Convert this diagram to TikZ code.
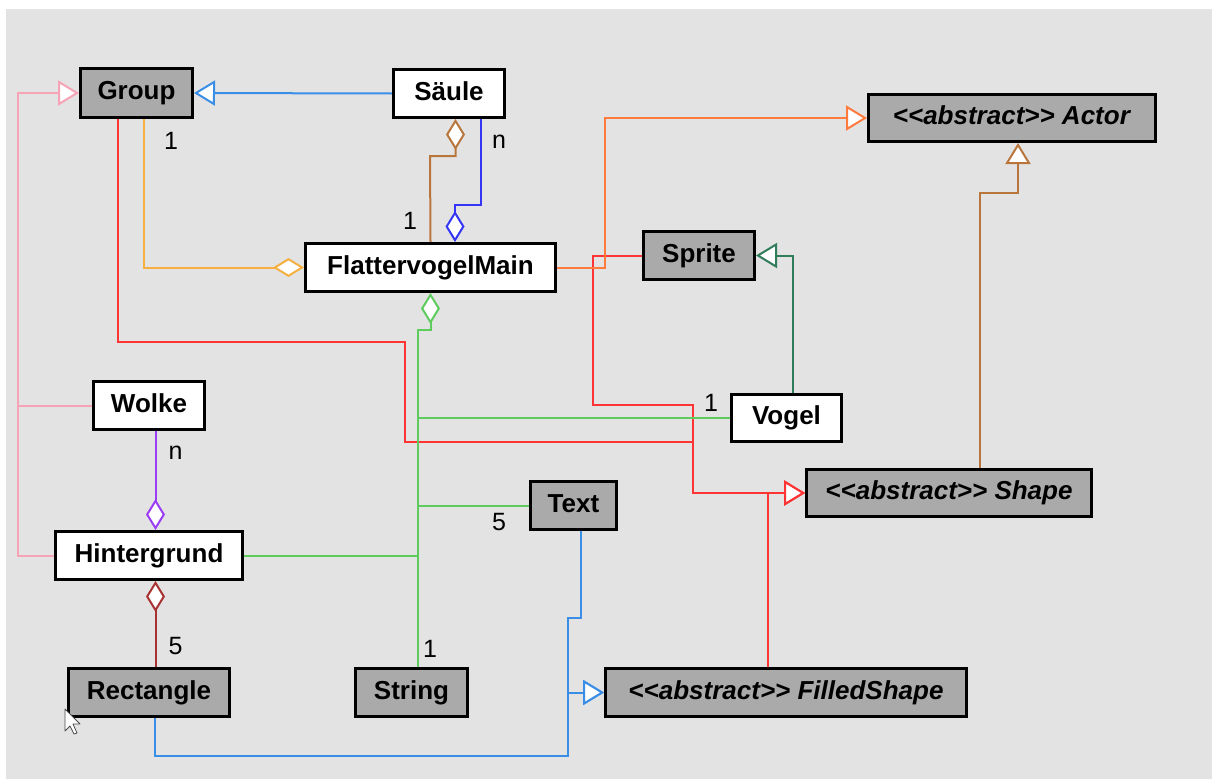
\documentclass[tikz,border=0pt]{standalone}
\usepackage{fontspec}
\setmainfont{Liberation Sans}
\usetikzlibrary{arrows.meta,backgrounds}
\definecolor{bgc}{HTML}{E3E3E3}
\definecolor{boxgray}{HTML}{AAAAAA}
\definecolor{cpink}{HTML}{F5A3B5}
\definecolor{cblue}{HTML}{3A8EE6}
\definecolor{cred}{HTML}{FF3535}
\definecolor{corange}{HTML}{FF7A3D}
\definecolor{cdgreen}{HTML}{2F7D5A}
\definecolor{cbrown}{HTML}{B8763C}
\definecolor{cpure}{HTML}{3535F5}
\definecolor{cyellow}{HTML}{F5B041}
\definecolor{cgreen}{HTML}{5DCC5D}
\definecolor{cpurple}{HTML}{9B3DF5}
\definecolor{cdred}{HTML}{A83232}
\pgfdeclarelayer{bgl}
\pgfdeclarelayer{edges}
\pgfsetlayers{bgl,edges,main}
\tikzset{
  cls/.style={draw=black, line width=3pt, fill=white, inner sep=0pt,
    font=\fontsize{26}{30}\selectfont\bfseries, text height=18.7pt, text depth=5.5pt},
  grayclass/.style={cls, fill=boxgray},
  conn/.style={line width=2pt},
  inh/.style={conn, -{Triangle[fill=white, length=21pt, width=25pt]}},
  agg/.style={conn, {Diamond[fill=white, length=31pt, width=19pt]}-},
  aggend/.style={conn, -{Diamond[fill=white, length=31pt, width=19pt]}},
  mult/.style={font=\fontsize{25}{30}\selectfont, inner sep=0pt},
}
\newcommand{\abst}[1]{\textit{<\kern0pt<abstract>\kern0pt> #1}}
\begin{document}
\begin{tikzpicture}[x=1pt,y=-1pt]
\useasboundingbox (0,0) rectangle (1212,779);
\begin{pgfonlayer}{bgl}
  \fill[white] (0,0) rectangle (1212,779);
  \fill[bgc] (6,9) rectangle (1212,779);
\end{pgfonlayer}

% classes
\node[grayclass, minimum width=112pt, minimum height=49pt] (group) at (136.5,93) {Group};
\node[cls, minimum width=111pt, minimum height=48pt] (saeule) at (449,93.5) {Säule};
\node[cls, minimum width=250pt, minimum height=48pt] (main) at (430.5,267.5) {FlattervogelMain};
\node[grayclass, minimum width=287pt, minimum height=47pt] (actor) at (1012,118) {\abst{Actor}};
\node[grayclass, minimum width=111pt, minimum height=48pt] (sprite) at (699,255.5) {Sprite};
\node[cls, minimum width=110pt, minimum height=47pt] (vogel) at (786.5,418) {Vogel};
\node[grayclass, minimum width=285pt, minimum height=47pt] (shp) at (949,493) {\abst{Shape}};
\node[grayclass, minimum width=361pt, minimum height=48pt] (filled) at (786,692.5) {\abst{FilledShape}};
\node[grayclass, minimum width=86pt, minimum height=48pt] (txt) at (573.5,505.5) {Text};
\node[grayclass, minimum width=112pt, minimum height=48pt] (strn) at (411.5,692.5) {String};
\node[cls, minimum width=111pt, minimum height=48pt] (wolke) at (149,405.5) {Wolke};
\node[cls, minimum width=187pt, minimum height=48pt] (hinter) at (149,555.5) {Hintergrund};
\node[grayclass, minimum width=161pt, minimum height=48pt] (rectn) at (149,692.5) {Rectangle};

\coordinate (pinkbus) at (18,300);
\coordinate (gbus) at (418,330);

\begin{pgfonlayer}{edges}
  % pink: Wolke, Hintergrund -> Group
  \draw[inh, cpink] (hinter.west) -| (pinkbus) |- (group.west);
  \draw[conn, cpink] (wolke.west) -- (wolke.west -| pinkbus);
  % blue: Saeule -> Group
  \draw[inh, cblue] (saeule.west) -- (group.east);
  % red: -> Shape
  \draw[inh, cred] ([xshift=-18.5pt]group.south) |- (405,342) |- (693,442) |- (shp.west);
  \draw[inh, cred] (sprite.west) -| (593,405) -| (693,493) -- (shp.west);
  \draw[inh, cred] ([xshift=-18pt]filled.north) |- (shp.west);
  % orange: Main -> Actor
  \draw[inh, corange] (main.east) -| (605,118) -- (actor.west);
  % dark green: Vogel -> Sprite
  \draw[inh, cdgreen] ([xshift=6.5pt]vogel.north) |- (sprite.east);
  % brown: Shape -> Actor
  \draw[inh, cbrown] ([xshift=31pt]shp.north) |- (1018,193) -- ([xshift=6pt]actor.south);
  % brown aggregation Saeule - Main
  \draw[agg, cbrown] ([xshift=6.5pt]saeule.south) |- (430,156) -- (main.north);
  % blue aggregation Main - Saeule
  \draw[agg, cpure] ([xshift=24.5pt]main.north) |- (481,205) -- ([xshift=32pt]saeule.south);
  % yellow: Group - Main
  \draw[aggend, cyellow] ([xshift=7pt]group.south) |- (main.west);
  % green: Main aggregation
  \draw[agg, cgreen] (main.south) |- (gbus) -- (gbus |- strn.north);
  \draw[conn, cgreen] (vogel.west) -- (vogel.west -| gbus);
  \draw[conn, cgreen] (txt.west) -- (txt.west -| gbus);
  \draw[conn, cgreen] (hinter.east) -- (hinter.east -| gbus);
  % purple: Hintergrund - Wolke
  \draw[agg, cpurple] ([xshift=6.5pt]hinter.north) -- ([xshift=6.5pt]wolke.south);
  % dark red: Hintergrund - Rectangle
  \draw[agg, cdred] ([xshift=6.5pt]hinter.south) -- ([xshift=6.5pt]rectn.north);
  % blue: Text, Rectangle -> FilledShape
  \draw[inh, cblue] ([xshift=7pt]txt.south) |- (568,618) |- (filled.west);
  \draw[inh, cblue] ([xshift=6pt]rectn.south) |- (568,756) |- (filled.west);
\end{pgfonlayer}

% multiplicities
\node[mult] (m1) at (171,141) {1};
\node[mult] (m2) at (410,221) {1};
\node[mult] (m3) at (499,142) {n};
\node[mult] (m4) at (711,402.5) {1};
\node[mult] (m5) at (499,522.5) {5};
\node[mult] (m6) at (430,649) {1};
\node[mult] (m7) at (175.5,453) {n};
\node[mult] (m8) at (175.5,646) {5};

% mouse cursor
\draw[fill=white, draw=black!70, line width=0.8pt, line join=round]
  (65,709) -- (65,731) -- (70,726) -- (74,734) -- (77,733) -- (73,724) -- (80,724) -- cycle;
\end{tikzpicture}
\end{document}
